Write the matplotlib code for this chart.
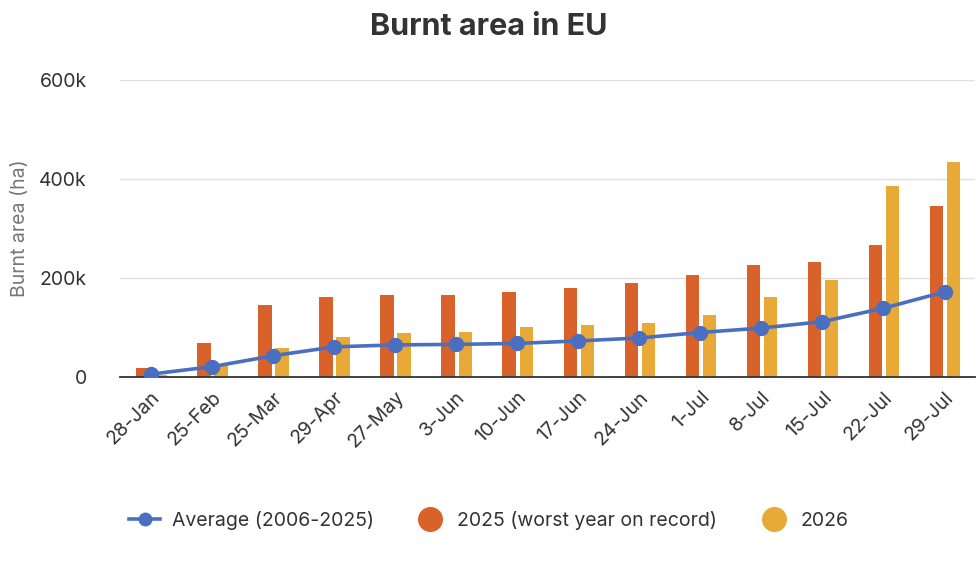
import numpy as np
import matplotlib
matplotlib.use("Agg")
import matplotlib.pyplot as plt
from matplotlib.ticker import FuncFormatter
from matplotlib.lines import Line2D

plt.rcParams['font.family'] = ['Inter', 'DejaVu Sans']

dates = ['28-Jan', '25-Feb', '25-Mar', '29-Apr', '27-May', '3-Jun', '10-Jun',
         '17-Jun', '24-Jun', '1-Jul', '8-Jul', '15-Jul', '22-Jul', '29-Jul']
avg_2006_2025 = [6000, 21000, 43000, 61000, 65000, 66000, 68000,
                 73000, 79000, 90000, 99000, 112000, 139000, 172000]
y2025 = [18000, 68000, 145000, 162000, 166000, 166000, 172000,
         180000, 190000, 206000, 226000, 233000, 267000, 345000]
y2026 = [5000, 24000, 58000, 81000, 89000, 91000, 101000,
         105000, 109000, 125000, 162000, 196000, 386000, 434000]

BLUE = '#4A6FC1'
ORANGE = '#D9622B'
YELLOW = '#E8A936'

fig = plt.figure(figsize=(9.78, 5.62), dpi=100)
ax = fig.add_axes([0.123, 0.329, 0.874, 0.529])

x = np.arange(len(dates))
w = 0.22
ax.bar(x - 0.13, y2025, width=w, color=ORANGE, zorder=2)
ax.bar(x + 0.15, y2026, width=w, color=YELLOW, zorder=2)
ax.plot(x, avg_2006_2025, color=BLUE, lw=2.6, marker='o', markersize=10, zorder=3)

ax.set_xlim(-0.5, len(dates) - 0.5)
ax.set_ylim(0, 600000)
ax.set_yticks([0, 200000, 400000, 600000])
ax.yaxis.set_major_formatter(FuncFormatter(lambda v, p: '0' if v == 0 else '%dk' % (v / 1000)))
ax.grid(axis='y', color='#e0e0e0', lw=1, zorder=0)
ax.set_axisbelow(True)
for s in ['top', 'right', 'left']:
    ax.spines[s].set_visible(False)
ax.spines['bottom'].set_color('#333333')
ax.spines['bottom'].set_linewidth(1.3)
ax.tick_params(axis='y', length=0, pad=24, labelsize=14, labelcolor='#333333')
ax.tick_params(axis='x', length=0, pad=8, labelsize=14, labelcolor='#333333')
ax.set_xticks(x)
ax.set_xticklabels(dates, rotation=45, ha='right', rotation_mode='anchor')
ax.set_ylabel('Burnt area (ha)', fontsize=14, color='#777777')
ax.yaxis.set_label_coords(-0.107, 0.5)

fig.suptitle('Burnt area in EU', fontsize=22, fontweight='bold', color='#333333', y=0.976)

labels = ['Average (2006-2025)', '2025 (worst year on record)', '2026']
handles = [Line2D([], [], color=BLUE, lw=2.6, marker='o', markersize=9),
           Line2D([], [], color=ORANGE, lw=0, marker='o', markersize=17),
           Line2D([], [], color=YELLOW, lw=0, marker='o', markersize=17)]
leg = fig.legend(handles, labels, loc='center',
                 bbox_to_anchor=(0.5, 0.074), ncol=3, frameon=False, fontsize=14,
                 handlelength=1.6, columnspacing=2.1, handletextpad=0.6)
for t in leg.get_texts():
    t.set_color('#333333')

fig.savefig('out.png', dpi=100)
